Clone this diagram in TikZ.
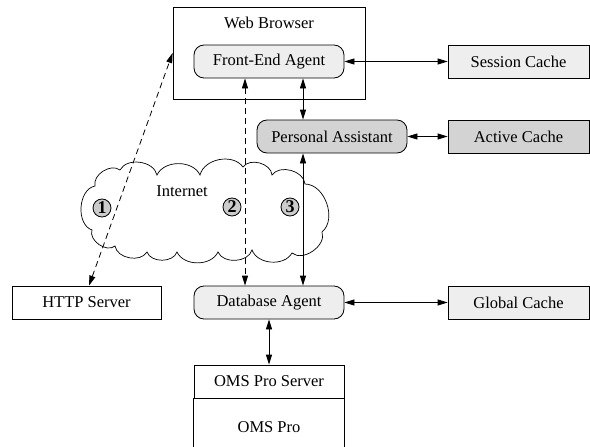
\documentclass[tikz,border=0pt]{standalone}
\usepackage{fontspec}
\setmainfont{Liberation Serif}
\usetikzlibrary{arrows.meta,calc}
\definecolor{lightfill}{HTML}{EEEEEE}
\definecolor{darkfill}{HTML}{D3D3D3}
\definecolor{numfill}{HTML}{CCCCCC}
\begin{document}
\begin{tikzpicture}[x=1pt,y=-1pt,line width=0.8pt,
  font=\fontsize{16.5}{19}\selectfont,
  box/.style={draw,inner sep=0pt,minimum height=33pt,minimum width=#1},
  box/.default=150pt,
  agent/.style={box=150pt,rounded corners=10pt,fill=lightfill},
  conn/.style={{Triangle[length=10pt,width=6pt]}-{Triangle[length=10pt,width=6pt]}},
  dashconn/.style={conn,dash pattern=on 6pt off 4pt},
  num/.style={circle,draw,fill=numfill,inner sep=0pt,minimum size=18pt,font=\fontsize{18}{19}\selectfont\bfseries}]
\useasboundingbox (0,0) rectangle (590,447);
% cloud
\draw[line width=0.7pt] (95,186)
  to[bend left=70] (120,170)
  to[bend left=70] (157,175)
  to[bend left=65] (200,175)
  to[bend left=65] (243,167)
  to[bend left=70] (272,175)
  to[bend left=70] (305,184)
  to[bend left=70] (322,232)
  to[bend left=75] (292,253)
  to[bend left=65] (252,250)
  to[bend left=70] (218,252)
  to[bend left=65] (177,252)
  to[bend left=70] (147,252)
  to[bend left=70] (115,246)
  to[bend left=75] (92,230)
  to[bend left=75] (95,186) -- cycle;
\node (inet) at (182,191) {Internet};
% web browser
\node[draw,inner sep=0pt,minimum width=192pt,minimum height=92pt] (web) at (269,53) {};
\node (webl) at (269,23) {Web Browser};
\node[agent] (fea) at (269,61.5) {Front-End Agent};
\node[box=141pt,fill=lightfill] (session) at (518.5,61.5) {Session Cache};
\node[agent,fill=darkfill] (pa) at (332,136.5) {Personal Assistant};
\node[box=141pt,fill=darkfill] (active) at (518.5,136.5) {Active Cache};
\node[box=149pt] (http) at (86.5,302.5) {HTTP Server};
\node[agent] (dba) at (269,302.5) {Database Agent};
\node[box=141pt,fill=lightfill] (global) at (518.5,302.5) {Global Cache};
\node[box=150pt] (oms) at (269,381.5) {OMS Pro Server};
\draw (oms.south west) -- ++(0,50);
\draw (oms.south east) -- ++(0,50);
\node (omsp) at (269,427) {OMS Pro};
% numbers
\node[num] (n1) at (102,208) {1};
\node[num] (n2) at (232,207) {2};
\node[num] (n3) at (290,207) {3};
% connectors
\coordinate (ht) at ($(http.north)+(2.5,0)$);
\draw[dashconn] (ht) -- (web.west);
\draw[dashconn] (fea.south -| 245,0) -- (dba.north -| 245,0);
\draw[conn] (fea.south -| 303,0) -- (pa.north -| 303,0);
\draw[conn] (pa.south -| 303,0) -- (dba.north -| 303,0);
\draw[conn] (fea.east) -- (session.west);
\draw[conn] (pa.east) -- (active.west);
\draw[conn] (dba.east) -- (global.west);
\draw[conn] (dba.south) -- (oms.north);
\end{tikzpicture}
\end{document}
